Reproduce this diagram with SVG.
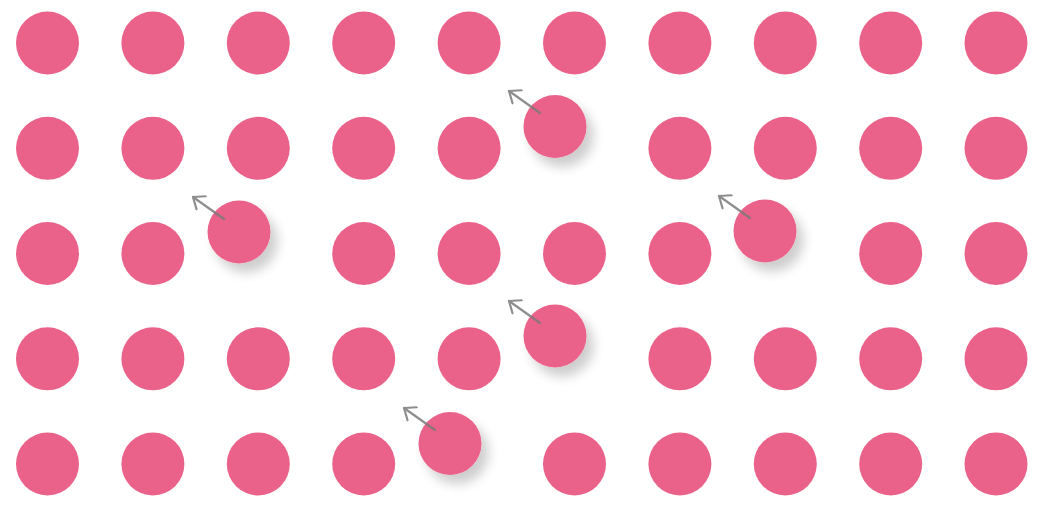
<svg xmlns="http://www.w3.org/2000/svg" width="1050" height="514" viewBox="0 0 1050 514">
<defs>
<style>
.dot{fill:#EA628A}
.arr{fill:none;stroke:#7a7a7a;stroke-width:2.2;stroke-linecap:round;stroke-linejoin:round;opacity:0.85}
</style>
<filter id="sh" x="-60%" y="-60%" width="220%" height="220%">
<feGaussianBlur in="SourceAlpha" stdDeviation="6"/>
<feOffset dx="7" dy="9" result="b"/>
<feComponentTransfer><feFuncA type="linear" slope="0.2"/></feComponentTransfer>
<feMerge><feMergeNode/><feMergeNode in="SourceGraphic"/></feMerge>
</filter>
<marker id="ah" viewBox="0 0 14 18" refX="11.5" refY="9" markerWidth="14" markerHeight="18" markerUnits="userSpaceOnUse" orient="auto">
<path d="M1.5,1 L11.5,9 L1.5,17" fill="none" stroke="#7a7a7a" stroke-width="2.2" stroke-linecap="round" stroke-linejoin="round"/>
</marker>
<circle id="c" r="31.5"/>
</defs>
<rect width="1050" height="514" fill="#ffffff"/>
<g id="grid" class="dot">
<g id="row1">
<use href="#c" x="47.5" y="43"/><use href="#c" x="152.9" y="43"/><use href="#c" x="258.3" y="43"/><use href="#c" x="363.7" y="43"/><use href="#c" x="469.1" y="43"/><use href="#c" x="574.5" y="43"/><use href="#c" x="679.9" y="43"/><use href="#c" x="785.3" y="43"/><use href="#c" x="890.7" y="43"/><use href="#c" x="996" y="43"/>
</g>
<g id="row2">
<use href="#c" x="47.5" y="148.3"/><use href="#c" x="152.9" y="148.3"/><use href="#c" x="258.3" y="148.3"/><use href="#c" x="363.7" y="148.3"/><use href="#c" x="469.1" y="148.3"/><use href="#c" x="679.9" y="148.3"/><use href="#c" x="785.3" y="148.3"/><use href="#c" x="890.7" y="148.3"/><use href="#c" x="996" y="148.3"/>
</g>
<g id="row3">
<use href="#c" x="47.5" y="253.5"/><use href="#c" x="152.9" y="253.5"/><use href="#c" x="363.7" y="253.5"/><use href="#c" x="469.1" y="253.5"/><use href="#c" x="574.5" y="253.5"/><use href="#c" x="679.9" y="253.5"/><use href="#c" x="890.7" y="253.5"/><use href="#c" x="996" y="253.5"/>
</g>
<g id="row4">
<use href="#c" x="47.5" y="358.8"/><use href="#c" x="152.9" y="358.8"/><use href="#c" x="258.3" y="358.8"/><use href="#c" x="363.7" y="358.8"/><use href="#c" x="469.1" y="358.8"/><use href="#c" x="679.9" y="358.8"/><use href="#c" x="785.3" y="358.8"/><use href="#c" x="890.7" y="358.8"/><use href="#c" x="996" y="358.8"/>
</g>
<g id="row5">
<use href="#c" x="47.5" y="464"/><use href="#c" x="152.9" y="464"/><use href="#c" x="258.3" y="464"/><use href="#c" x="363.7" y="464"/><use href="#c" x="574.5" y="464"/><use href="#c" x="679.9" y="464"/><use href="#c" x="785.3" y="464"/><use href="#c" x="890.7" y="464"/><use href="#c" x="996" y="464"/>
</g>
</g>
<g id="moved" class="dot" filter="url(#sh)">
<use id="m1" href="#c" x="555" y="126.5"/>
<use id="m2" href="#c" x="239" y="232"/>
<use id="m3" href="#c" x="765" y="231"/>
<use id="m4" href="#c" x="555" y="336"/>
<use id="m5" href="#c" x="450" y="443.5"/>
</g>
<g id="connectors" class="arr">
<line x1="540" y1="113" x2="509" y2="91" marker-end="url(#ah)"/>
<line x1="224" y1="219" x2="193" y2="197" marker-end="url(#ah)"/>
<line x1="750" y1="218" x2="719" y2="196" marker-end="url(#ah)"/>
<line x1="540" y1="323" x2="509" y2="301" marker-end="url(#ah)"/>
<line x1="435" y1="430" x2="404" y2="408" marker-end="url(#ah)"/>
</g>
</svg>
